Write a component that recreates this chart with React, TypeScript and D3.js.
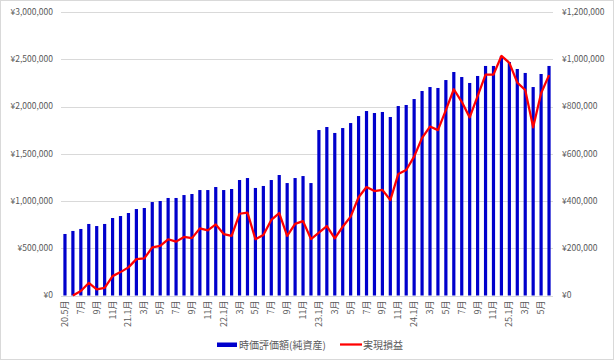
import React from "react";
import * as d3 from "d3";

const months: string[] = [
  "20.5月","6月","7月","8月","9月","10月","11月","12月",
  "21.1月","2月","3月","4月","5月","6月","7月","8月","9月","10月","11月","12月",
  "22.1月","2月","3月","4月","5月","6月","7月","8月","9月","10月","11月","12月",
  "23.1月","2月","3月","4月","5月","6月","7月","8月","9月","10月","11月","12月",
  "24.1月","2月","3月","4月","5月","6月","7月","8月","9月","10月","11月","12月",
  "25.1月","2月","3月","4月","5月","6月",
];

const assetValues: number[] = [
  651000, 683000, 704000, 757000, 735000, 757000, 820000, 841000, 873000, 915000,
  926000, 989000, 1000000, 1032000, 1032000, 1063000, 1074000, 1116000, 1116000, 1148000,
  1116000, 1127000, 1222000, 1243000, 1138000, 1159000, 1222000, 1275000, 1190000, 1243000,
  1264000, 1190000, 1751000, 1783000, 1720000, 1772000, 1825000, 1899000, 1952000, 1931000,
  1942000, 1889000, 2005000, 2016000, 2079000, 2164000, 2206000, 2196000, 2280000, 2365000,
  2312000, 2249000, 2323000, 2429000, 2429000, 2534000, 2471000, 2397000, 2355000, 2206000,
  2344000, 2429000,
];

const realizedValues: (number | null)[] = [
  null, 0, 19000, 53000, 26000, 32000, 82000, 99000, 119000, 154000,
  157000, 204000, 210000, 238000, 228000, 248000, 243000, 284000, 276000, 301000,
  260000, 252000, 346000, 351000, 238000, 256000, 320000, 349000, 252000, 303000,
  315000, 239000, 266000, 294000, 242000, 291000, 334000, 416000, 459000, 442000,
  447000, 404000, 514000, 531000, 588000, 667000, 715000, 700000, 785000, 873000,
  820000, 754000, 844000, 935000, 935000, 1014000, 985000, 901000, 870000, 712000,
  856000, 933000,
];

const leftTicks: number[] = [0, 500000, 1000000, 1500000, 2000000, 2500000, 3000000];
const rightTicks: number[] = [0, 200000, 400000, 600000, 800000, 1000000, 1200000];
const seriesNames: string[] = ["時価評価額(純資産)", "実現損益"];

const W = 614;
const H = 360;
const plot = { left: 61, right: 553, top: 12, bottom: 295.5 };
const FONT = "'Noto Sans CJK JP', 'Noto Sans', sans-serif";
const TXT = "#595959";

export default function App() {
  const x = d3
    .scaleBand<number>()
    .domain(months.map((_, i) => i))
    .range([plot.left, plot.right])
    .paddingInner(0.6)
    .paddingOuter(0.3);
  const step = x.step();
  const cx = (i: number) => plot.left + step * (i + 0.5);
  const yL = d3.scaleLinear().domain([0, 3000000]).range([plot.bottom, plot.top]);
  const yR = d3.scaleLinear().domain([0, 1200000]).range([plot.bottom, plot.top]);
  const fmt = (v: number) => "¥" + d3.format(",")(v);
  const barW = 3.2;

  const line = d3
    .line<number | null>()
    .defined((d) => d !== null)
    .x((_, i) => cx(i))
    .y((d) => yR(d as number));

  return (
    <svg
      width={W}
      height={H}
      style={{ position: "absolute", left: 0, top: 0, background: "#fff" }}
      fontFamily={FONT}
    >
      <rect x={0.5} y={0.5} width={W - 1} height={H - 1} fill="#fff" stroke="#d9d9d9" />
      {leftTicks.map((t) => (
        <line
          key={t}
          x1={plot.left}
          x2={plot.right}
          y1={Math.round(yL(t)) + 0.5}
          y2={Math.round(yL(t)) + 0.5}
          stroke="#d9d9d9"
          strokeWidth={1}
        />
      ))}
      {leftTicks.map((t) => (
        <text key={t} x={53} y={yL(t)} dy="0.35em" textAnchor="end" fontSize={8.5} fill={TXT}>
          {fmt(t)}
        </text>
      ))}
      {rightTicks.map((t) => (
        <text key={t} x={562} y={yR(t)} dy="0.35em" textAnchor="start" fontSize={8.5} fill={TXT}>
          {fmt(t)}
        </text>
      ))}
      {assetValues.map((v, i) => (
        <rect
          key={i}
          x={cx(i) - barW / 2}
          y={yL(v)}
          width={barW}
          height={yL(0) - yL(v)}
          fill="#0000cc"
        />
      ))}
      <path d={line(realizedValues) || ""} fill="none" stroke="#ff0000" strokeWidth={2.25} strokeLinejoin="round" />
      {months.map((m, i) =>
        i % 2 === 0 ? (
          <text
            key={i}
            transform={`translate(${cx(i) + 3},${plot.bottom + 5}) rotate(-90)`}
            textAnchor="end"
            fontSize={9}
            fill={TXT}
          >
            {m}
          </text>
        ) : null
      )}
      <rect x={217} y={342.5} width={20} height={4.5} fill="#0000cc" />
      <text x={239} y={345} dy="0.35em" fontSize={10} fill={TXT}>
        {seriesNames[0]}
      </text>
      <line x1={340} x2={362} y1={344.5} y2={344.5} stroke="#ff0000" strokeWidth={2.25} />
      <text x={363} y={345} dy="0.35em" fontSize={10} fill={TXT}>
        {seriesNames[1]}
      </text>
    </svg>
  );
}
